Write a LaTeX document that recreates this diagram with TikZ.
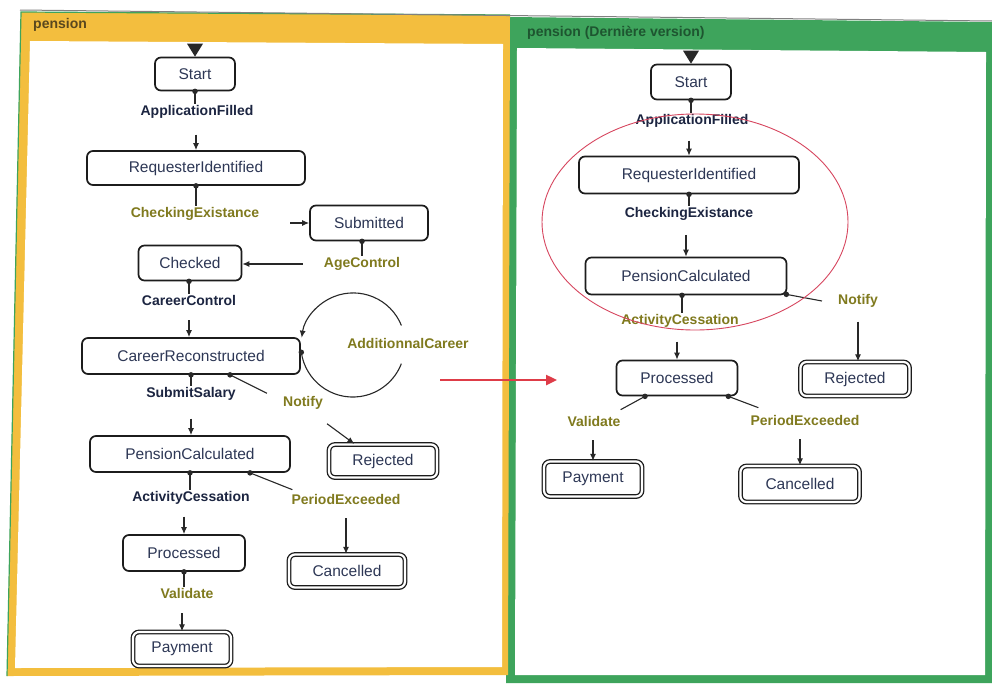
\documentclass[tikz,border=0pt]{standalone}
\usepackage{fontspec}
\setmainfont{Liberation Sans}
\usetikzlibrary{arrows.meta,calc}
\definecolor{frameyellow}{RGB}{243,190,62}
\definecolor{framegreen}{RGB}{62,164,92}
\definecolor{boxline}{RGB}{28,28,28}
\definecolor{boxtext}{RGB}{45,55,85}
\definecolor{evnavy}{RGB}{28,37,65}
\definecolor{evolive}{RGB}{128,122,30}
\definecolor{edgegray}{RGB}{40,40,40}
\definecolor{marker}{RGB}{222,60,72}
\definecolor{ringred}{RGB}{215,70,95}
\definecolor{titlebrown}{RGB}{90,72,30}
\definecolor{titlegreen}{RGB}{30,85,48}
\begin{document}
\begin{tikzpicture}[x=1pt,y=-1pt,
  state/.style={draw=boxline, line width=1.7pt, rounded corners=6pt, fill=white,
    text=boxtext, font=\fontsize{15.5}{17}\selectfont, inner sep=0pt},
  final/.style={state, line width=1.3pt, double=white, double distance=2.2pt},
  ev/.style={font=\bfseries\fontsize{14}{16}\selectfont, inner sep=1pt},
  evn/.style={ev, text=evnavy},
  evo/.style={ev, text=evolive},
  link/.style={draw=edgegray, line width=1.1pt},
  dotm/.style={circle, fill=edgegray, inner sep=0pt, minimum size=5.5pt},
  arr/.style={draw=edgegray, line width=1.1pt, -{Latex[length=7pt,width=6pt]}},
  ttl/.style={font=\bfseries\fontsize{14}{16}\selectfont, inner sep=0pt, anchor=west},
]
\useasboundingbox (0,0) rectangle (992,683);

% window frames
\fill[framegreen] (508,17) -- (992,22) -- (992,683) -- (506,683) -- cycle;
\fill[white] (517,48) -- (986,52) -- (985,675) -- (515,675) -- cycle;
\fill[frameyellow] (21,12) -- (510,15) -- (508,675) -- (7,676) -- cycle;
\draw[framegreen, line width=1.2pt] (7,676) -- (21,12) -- (510,15);
\fill[white] (30,41) -- (503,44) -- (502,667) -- (15,668) -- cycle;
\draw[gray, line width=1pt] (20,10) -- (992,21);

\node[ttl, text=titlebrown] (ttlL) at (33,25) {pension};
\node[ttl, text=titlegreen] (ttlR) at (527,33) {pension (Dernière version)};

% ---------- left model ----------
\node[state, minimum width=80pt, minimum height=33pt] (startL) at (195,74) {Start};
\node[evn] (appL) at (197,112) {ApplicationFilled};
\node[state, minimum width=218pt, minimum height=34pt] (reqL) at (196,168) {RequesterIdentified};
\node[evo] (chkL) at (195,214) {CheckingExistance};
\node[state, minimum width=118pt, minimum height=35pt] (subL) at (369,223) {Submitted};
\node[evo] (ageL) at (362,264) {AgeControl};
\node[state, minimum width=103pt, minimum height=35pt] (chkdL) at (190,263) {Checked};
\node[evn] (ccL) at (189,300) {CareerControl};
\node[state, minimum width=218pt, minimum height=36pt] (crL) at (191,356) {CareerReconstructed};
\node[circle, minimum size=104pt, inner sep=0pt] (loopL) at (353,345) {};
\node[evo] (addL) at (408,343) {AdditionnalCareer};
\node[evn] (ssL) at (191,394) {SubmitSalary};
\node[evo] (notL) at (303,403) {Notify};
\node[final, minimum width=108pt, minimum height=33pt] (rejL) at (383,461) {Rejected};
\node[state, minimum width=200pt, minimum height=36pt] (pcL) at (190,454) {PensionCalculated};
\node[evn] (acL) at (191,498) {ActivityCessation};
\node[evo] (peL) at (346,499) {PeriodExceeded};
\node[final, minimum width=116pt, minimum height=33pt] (canL) at (347,571) {Cancelled};
\node[state, minimum width=122pt, minimum height=36pt] (prL) at (184,553) {Processed};
\node[evo] (valL) at (187,593) {Validate};
\node[final, minimum width=98pt, minimum height=34pt] (payL) at (182,649) {Payment};

\fill[edgegray] ($(startL.north)+(-8,-13)$) -- ($(startL.north)+(8,-13)$) -- (startL.north) -- cycle;

\draw[link] (startL.south) node[dotm]{} -- (startL.south |- appL.north);
\draw[arr, shorten <=15pt] (appL.south -| reqL.north) -- (reqL.north);
\draw[link] (reqL.south) node[dotm]{} -- (reqL.south |- chkL.north);
\draw[arr, shorten <=30pt] (chkL.east |- subL.west) -- (subL.west);
\draw[link] (ageL.north |- subL.south) node[dotm]{} -- (ageL.north);
\draw[arr, shorten <=20pt] (ageL.west) -- (ageL.west -| chkdL.east);
\draw[link] (chkdL.south -| ccL.north) node[dotm]{} -- (ccL.north);
\draw[arr, shorten <=14pt] (ccL.south) -- (ccL.south |- crL.north);
\draw[link] (crL.south) node[dotm]{} -- (crL.south |- ssL.north);
\draw[link] ($(crL.south)+(39,0)$) node[dotm]{} -- ($(notL.north west)+(-15,-2)$);
\draw[arr] ($(notL.south east)+(3,13)$) -- ($(rejL.north west)+(26,0)$);
\draw[link] (loopL.188) node[dotm]{} arc[start angle=188, end angle=339, radius=52pt];
\draw[arr] (loopL.22) arc[start angle=22, end angle=172, radius=52pt];
\draw[arr, shorten <=17pt] (ssL.south) -- (ssL.south |- pcL.north);
\draw[link] (pcL.south) node[dotm]{} -- (pcL.south |- acL.north);
\draw[link] ($(pcL.south)+(60,0)$) node[dotm]{} -- ($(peL.north west)+(2,-3)$);
\draw[arr, shorten <=13pt] (peL.south) -- (peL.south |- canL.north);
\draw[arr, shorten <=11pt] (acL.south -| prL.north) -- (prL.north);
\draw[link] (prL.south) node[dotm]{} -- (prL.south |- valL.north);
\draw[arr, shorten <=14pt] (valL.south -| payL.north) -- (payL.north);

% ---------- right model ----------
\node[state, minimum width=80pt, minimum height=35pt] (startR) at (691,82) {Start};
\node[evn] (appR) at (692,121) {ApplicationFilled};
\node[state, minimum width=220pt, minimum height=37pt] (reqR) at (689,175) {RequesterIdentified};
\node[evn] (chkR) at (689,214) {CheckingExistance};
\node[state, minimum width=201pt, minimum height=37pt] (pcR) at (686,276) {PensionCalculated};
\node[evo] (notR) at (858,301) {Notify};
\node[evo] (acR) at (680,321) {ActivityCessation};
\node[state, minimum width=121pt, minimum height=35pt] (prR) at (677,378) {Processed};
\node[final, minimum width=109pt, minimum height=34pt] (rejR) at (855,379) {Rejected};
\node[evo] (valR) at (594,421) {Validate};
\node[evo] (peR) at (805,420) {PeriodExceeded};
\node[final, minimum width=98pt, minimum height=35pt] (payR) at (593,479) {Payment};
\node[final, minimum width=119pt, minimum height=36pt] (canR) at (800,484) {Cancelled};

\fill[edgegray] ($(startR.north)+(-8,-13)$) -- ($(startR.north)+(8,-13)$) -- (startR.north) -- cycle;

\draw[link] (startR.south) node[dotm]{} -- (startR.south |- appR.north);
\draw[arr, shorten <=12pt] (appR.south -| reqR.north) -- (reqR.north);
\draw[link] (reqR.south) node[dotm]{} -- (reqR.south |- chkR.north);
\draw[arr, shorten <=13pt] (chkR.south -| pcR.north) -- (pcR.north);
\draw[link] ($(pcR.south east)+(-1,-1)$) node[dotm]{} -- ($(notR.west)+(-15,0)$);
\draw[arr, shorten <=13pt] (notR.south) -- (notR.south |- rejR.north);
\draw[link] ($(pcR.south)+(-4,0)$) node[dotm]{} -- ($(acR.north)+(2,0)$);
\draw[arr, shorten <=13pt] (acR.south -| prR.north) -- (prR.north);
\draw[link] ($(prR.south)+(-32,0)$) node[dotm]{} -- ($(valR.north east)+(-1,-5)$);
\draw[link] ($(prR.south east)+(-10,0)$) node[dotm]{} -- ($(peR.north west)+(9,-6)$);
\draw[arr, shorten <=13pt] (valR.south -| payR.north) -- (payR.north);
\draw[arr, shorten <=13pt] (peR.south -| canR.north) -- (canR.north);

% highlighted change and the pointer between the two versions
\draw[ringred, line width=0.9pt] (695,222) ellipse [x radius=153pt, y radius=108pt];
\coordinate (diffFrom) at (440,380);
\coordinate (diffTo) at (557,380);
\draw[marker, line width=2.4pt, -{Triangle[length=11pt,width=10pt]}] (diffFrom) -- (diffTo);
\end{tikzpicture}
\end{document}
